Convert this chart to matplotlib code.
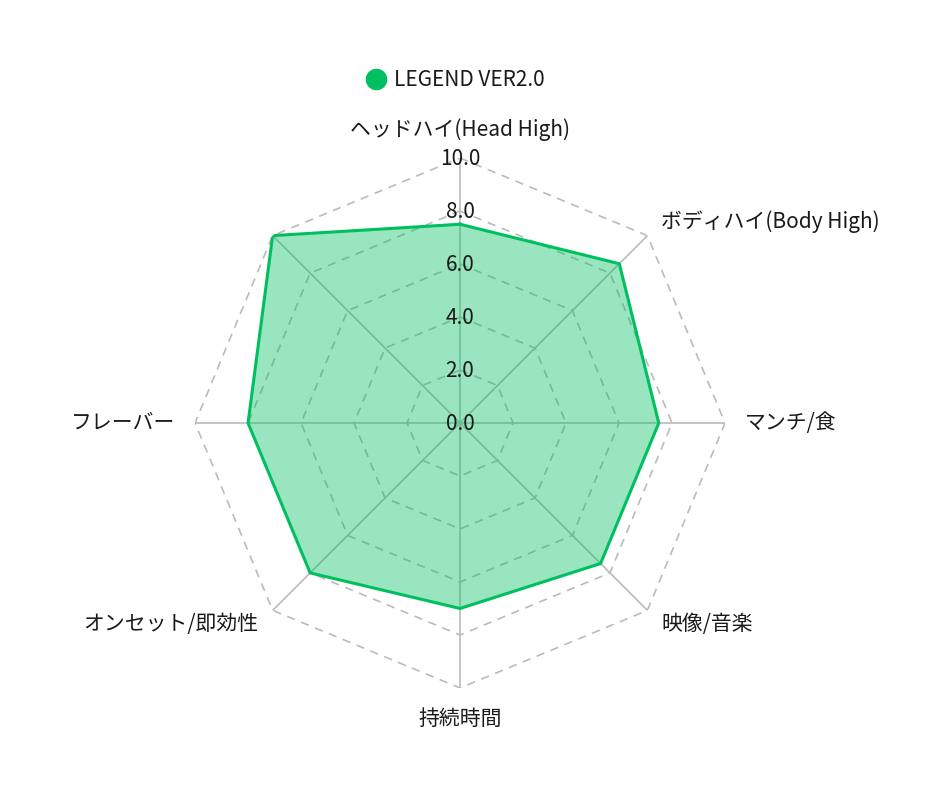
import numpy as np
import matplotlib
matplotlib.use('Agg')
import matplotlib.pyplot as plt
from matplotlib.lines import Line2D

plt.rcParams['font.family'] = ['Noto Sans CJK JP', 'DejaVu Sans']

# data
categories = ['ヘッドハイ(Head High)', 'ボディハイ(Body High)', 'マンチ/食', '映像/音楽',
              '持続時間', 'オンセット/即効性', 'フレーバー', '']
values = [7.5, 8.5, 7.5, 7.5, 7.0, 8.0, 8.0, 10.0]
levels = [0.0, 2.0, 4.0, 6.0, 8.0, 10.0]
series_name = 'LEGEND VER2.0'
line_color = '#00bf5f'
grid_color = '#bbbbbb'
text_color = '#1a1a1a'

n = len(categories)
angles = np.arange(n) * 2 * np.pi / n
closed = np.append(angles, angles[0])

fig = plt.figure(figsize=(9.4, 7.88), dpi=100)
ax = fig.add_axes([0.2075, 0.1269, 0.5638, 0.6726], projection='polar')
ax.set_theta_offset(np.pi / 2)
ax.set_theta_direction(-1)
ax.set_ylim(0, 10)
ax.grid(False)
ax.spines['polar'].set_visible(False)
ax.set_xticks([])
ax.set_yticks([])
ax.patch.set_alpha(0)

# polygon rings and spokes
for lv in levels[1:]:
    ax.plot(closed, [lv] * (n + 1), color=grid_color, lw=1.2, ls=(0, (5, 4)), zorder=1)
for a in angles:
    ax.plot([a, a], [0, 10], color=grid_color, lw=1.2, zorder=1)

vals = values + values[:1]
ax.fill(closed, vals, color=line_color, alpha=0.4, lw=0, zorder=2)
ax.plot(closed, vals, color=line_color, lw=2.2, zorder=3)

for lv in levels:
    ax.annotate('%.1f' % lv, xy=(0, lv), xytext=(0, -1), textcoords='offset points',
                ha='center', va='center', fontsize=15, color=text_color,
                annotation_clip=False, zorder=4)

for a, lab in zip(angles, categories):
    s, c = np.sin(a), np.cos(a)
    ha = 'center' if abs(s) < 0.1 else ('left' if s > 0 else 'right')
    r = 10.75
    if abs(c) > 0.99:
        va = 'bottom' if c > 0 else 'top'
        if c > 0:
            r = 10.65
    else:
        va = 'center'
    ax.text(a, r, lab, ha=ha, va=va, fontsize=15, color=text_color)

handle = Line2D([], [], ls='none', marker='o', markersize=14.5,
                markerfacecolor=line_color, markeredgecolor=line_color)
fig.legend([handle], [series_name], loc='center', bbox_to_anchor=(455 / 940, 1 - 80 / 788),
           frameon=False, fontsize=15, handlelength=1.0, handletextpad=0.4,
           labelcolor=text_color)

fig.savefig('out.png', dpi=100)
